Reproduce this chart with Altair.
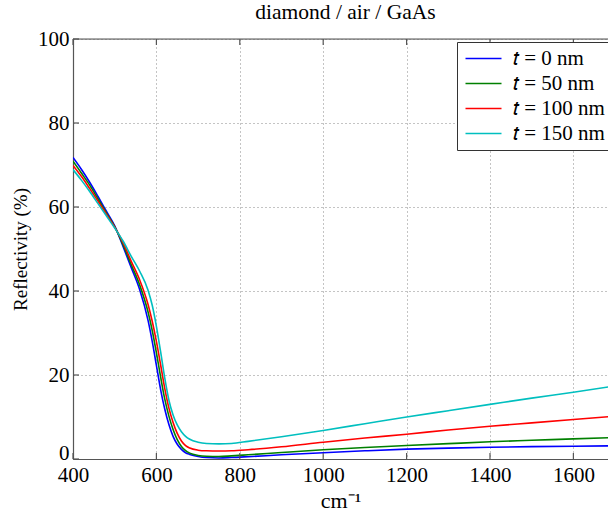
import altair as alt
import pandas as pd

wavenumber = [400, 420, 440, 460, 480, 500, 520, 540, 560, 580, 590, 600, 610, 620, 630, 640,
              650, 660, 670, 680, 700, 720, 750, 780, 820, 900, 1000, 1100, 1200, 1300, 1400,
              1500, 1600, 1700]
r_0 = [71.8, 69.0, 65.9, 62.5, 59.0, 55.5, 50.6, 45.5, 40.3, 33.0, 28.0, 22.3, 16.6, 11.9, 8.2, 5.4,
       3.5, 2.3, 1.5, 1.1, 0.6, 0.35, 0.25, 0.35, 0.55, 1.0, 1.5, 1.95, 2.35, 2.6, 2.8,
       2.95, 3.05, 3.15]
r_50 = [70.9, 68.1, 65.2, 61.9, 58.6, 55.3, 51.0, 46.2, 41.4, 35.0, 30.6, 25.3, 19.6, 14.3, 10.2, 7.0,
        4.6, 3.0, 2.0, 1.4, 0.85, 0.65, 0.6, 0.75, 1.0, 1.55, 2.2, 2.75, 3.2, 3.65, 4.1,
        4.45, 4.8, 5.1]
r_100 = [69.9, 67.3, 64.4, 61.4, 58.3, 55.2, 51.5, 47.0, 42.6, 36.8, 32.8, 28.0, 22.5, 16.8, 12.1, 8.7,
         6.1, 4.3, 3.2, 2.6, 2.1, 1.95, 1.9, 1.95, 2.2, 2.9, 4.0, 5.0, 5.9, 6.9, 7.8,
         8.6, 9.4, 10.2]
r_150 = [68.9, 66.4, 63.7, 60.8, 57.9, 55.0, 51.9, 48.2, 44.7, 40.2, 36.6, 31.6, 25.6, 19.3, 14.0, 10.5,
         8.1, 6.5, 5.4, 4.7, 4.0, 3.7, 3.6, 3.7, 4.2, 5.3, 6.8, 8.4, 10.0, 11.5, 13.0,
         14.5, 15.9, 17.4]

labels = ["𝑡 = 0 nm", "𝑡 = 50 nm", "𝑡 = 100 nm", "𝑡 = 150 nm"]
colors = ["#0000FF", "#008000", "#FF0000", "#00BFBF"]
x_ticks = [400, 600, 800, 1000, 1200, 1400, 1600]
y_ticks = [0, 20, 40, 60, 80, 100]

rows = []
for lab, series in zip(labels, [r_0, r_50, r_100, r_150]):
    for w, r in zip(wavenumber, series):
        rows.append({"wn": w, "R": r, "series": lab})
df = pd.DataFrame(rows)

W, H = 535, 420
FONT = "Liberation Serif"
AX = "#555555"

xscale = alt.Scale(domain=[400, 1683], nice=False, zero=False)
yscale = alt.Scale(domain=[0, 100], nice=False, zero=False)

lines = alt.Chart(df).mark_line(strokeWidth=1.6, clip=True, interpolate="monotone").encode(
    x=alt.X("wn:Q", scale=xscale, axis=alt.Axis(
        values=x_ticks, format="d", title="cm⁻¹", ticks=False, grid=True, gridDash=[1, 3],
        gridColor="#888888", labelFontSize=21, labelFont=FONT, labelColor="black",
        titleFont=FONT, titleFontSize=22, titleFontWeight="normal", titleColor="black",
        titlePadding=5, labelPadding=5, labelFlush=False, domainColor=AX, domainWidth=1.2)),
    y=alt.Y("R:Q", scale=yscale, axis=alt.Axis(
        values=y_ticks, title="Reflectivity (%)", ticks=False, grid=True, gridDash=[1, 3],
        gridColor="#888888", labelFontSize=21, labelFont=FONT, labelColor="black",
        titleFont=FONT, titleFontSize=19, titleFontWeight="normal", titleColor="black",
        titlePadding=7, labelPadding=4, labelFlush=False, domainColor=AX, domainWidth=1.2,
        labelOffset={"condition": {"test": "datum.value === 0", "value": -6}, "value": 0})),
    color=alt.Color("series:N", scale=alt.Scale(domain=labels, range=colors), legend=alt.Legend(
        orient="none", legendX=384, legendY=3, title=None, symbolType="M-2,0H2",
        symbolSize=324, symbolStrokeWidth=1.6, symbolOffset=10, labelFontSize=21, labelFont=FONT,
        labelColor="black", fillColor="white", strokeColor="#333333", padding=6,
        rowPadding=3, labelOffset=19)),
)

xt = pd.DataFrame({"v": x_ticks})
yt = pd.DataFrame({"v": y_ticks})
one = pd.DataFrame({"a": [0]})

bottom_ticks = alt.Chart(xt).mark_rule(color=AX, strokeWidth=1.2).encode(
    x=alt.X("v:Q", scale=xscale), y=alt.value(H), y2=alt.value(H - 6))
top_ticks = alt.Chart(xt).mark_rule(color=AX, strokeWidth=1.2).encode(
    x=alt.X("v:Q", scale=xscale), y=alt.value(0), y2=alt.value(6))
left_ticks = alt.Chart(yt).mark_rule(color=AX, strokeWidth=1.2).encode(
    y=alt.Y("v:Q", scale=yscale), x=alt.value(0), x2=alt.value(6))
top_border = alt.Chart(one).mark_rule(color=AX, strokeWidth=1.2).encode(
    x=alt.value(0), x2=alt.value(W), y=alt.value(0))

chart = alt.layer(lines, bottom_ticks, top_ticks, left_ticks, top_border).properties(
    width=W, height=H,
    title=alt.TitleParams("diamond / air / GaAs", font=FONT, fontSize=21.5, fontWeight="normal",
                          color="black", offset=5, dx=5),
    padding={"left": 73, "top": 39, "right": 0, "bottom": 53},
    autosize=alt.AutoSizeParams(type="none"),
).configure_view(stroke=None).configure(background="white")

chart.save("out.html", embed_options={"renderer": "svg", "actions": False})
